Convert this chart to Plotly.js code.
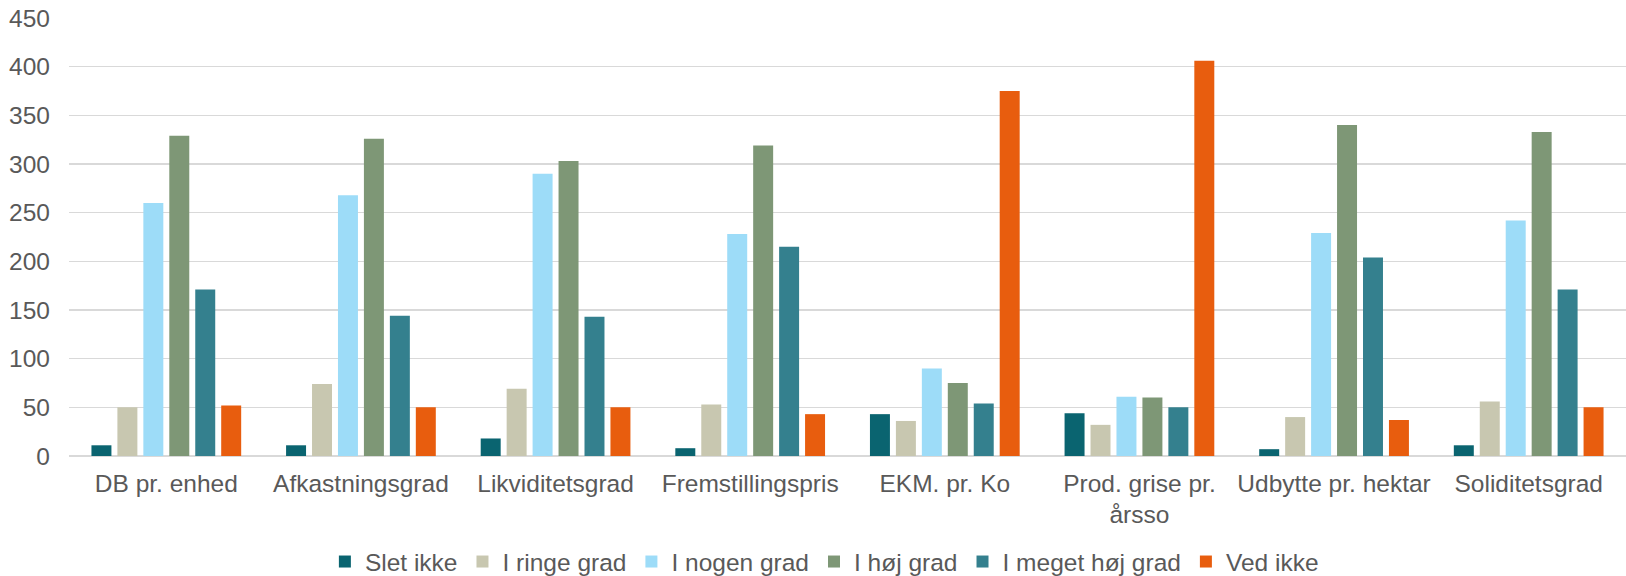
<!DOCTYPE html>
<html>
<head>
<meta charset="utf-8">
<script src="https://cdn.plot.ly/plotly-3.0.1.min.js"></script>
<style>html,body{margin:0;padding:0;background:#fff;}#chart{width:1626px;height:576px;}</style>
</head>
<body>
<div id="chart"></div>
<script>
const categories = ["DB pr. enhed", "Afkastningsgrad", "Likviditetsgrad", "Fremstillingspris", "EKM. pr. Ko", "Prod. grise pr.<br>årsso", "Udbytte pr. hektar", "Soliditetsgrad"];
const seriesNames = ["Slet ikke", "I ringe grad", "I nogen grad", "I høj grad", "I meget høj grad", "Ved ikke"];
const sletIkke   = [11, 11, 18, 8, 43, 44, 7, 11];
const iRingeGrad = [50, 74, 69, 53, 36, 32, 40, 56];
const iNogenGrad = [260, 268, 290, 228, 90, 61, 229, 242];
const iHoejGrad  = [329, 326, 303, 319, 75, 60, 340, 333];
const iMegetHoej = [171, 144, 143, 215, 54, 50, 204, 171];
const vedIkke    = [52, 50, 50, 43, 375, 406, 37, 50];
const yTicks = [0, 50, 100, 150, 200, 250, 300, 350, 400, 450];

const colors = ["#0a6470", "#c8c7b0", "#9ddcf8", "#7e9776", "#34808e", "#e85d0e"];
const values = [sletIkke, iRingeGrad, iNogenGrad, iHoejGrad, iMegetHoej, vedIkke];

const traces = values.map((v, i) => ({
  type: "bar",
  name: seriesNames[i],
  x: categories,
  y: v,
  marker: {color: colors[i], line: {width: 0}},
  hoverinfo: "x+y+name"
}));

const font = {family: "Liberation Sans, Arial, sans-serif", size: 24.5, color: "#595959"};

const layout = {
  width: 1626,
  height: 576,
  margin: {l: 69, r: 0, t: 18, b: 120, pad: 0},
  paper_bgcolor: "#ffffff",
  plot_bgcolor: "#ffffff",
  font: font,
  barmode: "group",
  bargap: 0.2,
  bargroupgap: 0.23,
  showlegend: true,
  legend: {
    orientation: "h",
    xref: "container",
    yref: "container",
    x: 0.507,
    xanchor: "center",
    y: 0.025,
    yanchor: "middle",
    font: font,
    itemclick: false,
    tracegroupgap: 0
  },
  xaxis: {
    type: "category",
    showgrid: false,
    showline: false,
    zeroline: false,
    ticks: "",
    tickfont: font,
    ticklabelstandoff: 10,
    automargin: false
  },
  yaxis: {
    range: [0, 450],
    tickvals: yTicks,
    ticktext: yTicks.map(String),
    showgrid: true,
    gridcolor: "#d9d9d9",
    gridwidth: 1.4,
    zeroline: true,
    zerolinecolor: "#d9d9d9",
    zerolinewidth: 1.4,
    showline: false,
    ticks: "",
    tickfont: font,
    ticklabelstandoff: 18,
    automargin: false
  }
};

Plotly.newPlot("chart", traces, layout, {displayModeBar: false, staticPlot: true});
</script>
</body>
</html>
